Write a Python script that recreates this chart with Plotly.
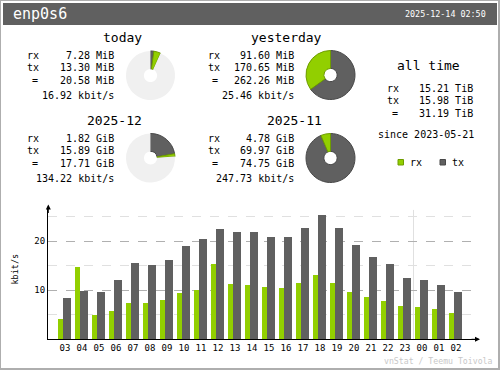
import plotly.graph_objects as go

W, H = 500, 370
MONO = "DejaVu Sans Mono"
C_RX, C_TX = "#92cf00", "#606060"
C_RX_D, C_TX_D = "#6e9c00", "#484848"
C_RING = "#f0f0f0"

# ---------------- data ----------------
interface = "enp0s6"
stamp = "2025-12-14 02:50"

hours = ["03", "04", "05", "06", "07", "08", "09", "10", "11", "12", "13", "14",
         "15", "16", "17", "18", "19", "20", "21", "22", "23", "00", "01", "02"]
rx_kbit = [4.15, 14.7, 4.95, 5.8, 7.4, 7.4, 8.0, 9.45, 10.0, 15.4, 11.3, 11.1,
           10.7, 10.5, 11.5, 13.1, 11.5, 9.65, 8.6, 7.8, 6.8, 6.6, 6.2, 5.4]
tx_kbit = [8.4, 9.85, 9.65, 12.1, 15.6, 15.2, 16.2, 19.0, 20.45, 22.5, 21.9, 21.9,
           20.9, 20.9, 22.7, 25.4, 22.7, 19.2, 16.8, 15.4, 12.5, 12.1, 11.1, 9.65]

today_rows = ["7.28 MiB", "13.30 MiB", "20.58 MiB", "16.92 kbit/s"]
yesterday_rows = ["91.60 MiB", "170.65 MiB", "262.26 MiB", "25.46 kbit/s"]
month_rows = ["1.82 GiB", "15.89 GiB", "17.71 GiB", "134.22 kbit/s"]
prev_month_rows = ["4.78 GiB", "69.97 GiB", "74.75 GiB", "247.73 kbit/s"]
alltime_rows = ["15.21 TiB", "15.98 TiB", "31.19 TiB"]
since = "since 2023-05-21"

# donut shares: [tx, rx, empty]
today_ring = [0.022, 0.045, 0.933]
yesterday_ring = [170.65, 91.60, 0]
month_ring = [0.222, 0.019, 0.759]
prev_month_ring = [69.97, 4.78, 0]


def px(x):
    return x / W


def py(y):
    return 1 - y / H


fig = go.Figure()

# ---------------- hourly bars ----------------
idx = list(range(len(hours)))
fig.add_trace(go.Bar(x=idx, y=rx_kbit, width=5 / 17, offset=-7 / 17,
                     marker=dict(color=C_RX, line=dict(width=0)),
                     hoverinfo="skip", showlegend=False))
fig.add_trace(go.Bar(x=idx, y=tx_kbit, width=8 / 17, offset=-2 / 17,
                     marker=dict(color=C_TX, line=dict(width=0)),
                     hoverinfo="skip", showlegend=False))

# ---------------- donuts ----------------
def donut(vals, cx, cy, r=24.5):
    fig.add_trace(go.Pie(
        values=vals, sort=False, direction="clockwise", rotation=0,
        hole=0.27, textinfo="none", hoverinfo="skip", showlegend=False,
        marker=dict(colors=[C_TX, C_RX, C_RING],
                    line=dict(color=[C_TX_D, C_RX_D, C_RING], width=[1, 1, 0])),
        domain=dict(x=[px(cx - r), px(cx + r)], y=[py(cy + r), py(cy - r)]),
    ))


donut(today_ring, 150.5, 75.5)
donut(yesterday_ring, 330.5, 75)
donut(month_ring, 150.5, 158)
donut(prev_month_ring, 330.5, 158)

ann = []


def txt(s, x, y, size=10, anchor="left", color="#000000"):
    ann.append(dict(text=s, x=px(x), y=py(y), xref="paper", yref="paper",
                    xanchor=anchor, yanchor="middle", showarrow=False,
                    font=dict(family=MONO, size=size, color=color)))


def block(title, tx_c, ty, lab_x, val_x, rows, row_y):
    txt(title, tx_c, ty, 13, "center")
    labels = ["rx", "tx", "="]
    for i, v in enumerate(rows):
        if i < 3:
            if labels[i] == "=":
                txt("=", lab_x + 9.5, row_y[i], 10, "center")
            else:
                txt(labels[i], lab_x, row_y[i], 10, "left")
        txt(v, val_x, row_y[i], 10, "right")


block("today", 122, 37.5, 25, 115.5, today_rows, [55.5, 67.5, 80, 95.5])
block("yesterday", 286, 37.5, 205.5, 295.5, yesterday_rows, [55.5, 67.5, 80, 95.5])
block("2025-12", 114, 120, 25, 115.5, month_rows, [138.5, 150.5, 163.5, 178.5])
block("2025-11", 294, 120, 205.5, 295.5, prev_month_rows, [138.5, 150.5, 163.5, 178.5])
block("all time", 428.5, 65.5, 385, 474.5, alltime_rows, [88.5, 100.5, 113])
txt(since, 426, 134, 10, "center")
txt("rx", 407.5, 162.5, 10, "left")
txt("tx", 449.5, 162.5, 10, "left")

# header
txt(interface, 11, 14, 15, "left", "#ffffff")
txt(stamp, 487.5, 14, 8.4, "right", "#ffffff")
txt("vnStat / Teemu Toivola", 494.5, 360.5, 8.2, "right", "#c8c8c8")
ann.append(dict(text="kbit/s", x=px(14.5), y=py(269), xref="paper", yref="paper",
                textangle=-90, showarrow=False, xanchor="center", yanchor="middle",
                font=dict(family=MONO, size=8.5, color="#000000")))

# axis arrowheads
ann.append(dict(text="", x=px(480), y=py(339.3), xref="paper", yref="paper",
                showarrow=True, ax=-10, ay=0, arrowhead=2, arrowsize=1,
                arrowwidth=1, arrowcolor="#000000", standoff=0))
ann.append(dict(text="", x=px(48.3), y=py(204.5), xref="paper", yref="paper",
                showarrow=True, ax=0, ay=10, arrowhead=2, arrowsize=1,
                arrowwidth=1, arrowcolor="#000000", standoff=0))

shapes = [
    dict(type="rect", xref="paper", yref="paper", x0=px(1), x1=px(498), y0=py(368), y1=py(1),
         fillcolor="#ffffff", line=dict(width=0), layer="below"),
    dict(type="rect", xref="paper", yref="paper", x0=px(3), x1=px(497), y0=py(25), y1=py(3),
         fillcolor="#606060", line=dict(width=0), layer="below"),
    dict(type="rect", xref="paper", yref="paper", x0=px(398), x1=px(403.5), y0=py(165), y1=py(159.5),
         fillcolor=C_RX, line=dict(color=C_RX_D, width=1)),
    dict(type="rect", xref="paper", yref="paper", x0=px(440), x1=px(445.5), y0=py(165), y1=py(159.5),
         fillcolor=C_TX, line=dict(color=C_TX_D, width=1)),
    dict(type="line", xref="x", yref="y", x0=20.5, x1=20.5, y0=0, y1=26.4,
         line=dict(color="#e0e0e0", width=1), layer="below"),
]

fig.update_layout(
    width=W, height=H, autosize=False,
    margin=dict(l=0, r=0, t=0, b=0, pad=0),
    paper_bgcolor="#aeaeae", plot_bgcolor="rgba(0,0,0,0)",
    barmode="overlay", bargap=0,
    annotations=ann, shapes=shapes,
    xaxis=dict(domain=[px(48), px(478)], range=[-1, (478 - 65) / 17],
               tickvals=idx, ticktext=hours, ticks="", showgrid=False, zeroline=False,
               showline=True, linecolor="#000000", linewidth=1,
               tickfont=dict(family=MONO, size=9, color="#000000"), fixedrange=True),
    yaxis=dict(domain=[py(339.3), py(206.7)], range=[0, 27.06],
               tickvals=[10, 20], ticktext=["10", "20"], ticks="", zeroline=False,
               showline=True, linecolor="#000000", linewidth=1,
               showgrid=True, gridcolor="#b0b0b0", griddash="dash", gridwidth=1,
               minor=dict(tickvals=[5, 15, 25], showgrid=True, gridcolor="#e0e0e0",
                          griddash="dash", gridwidth=1),
               tickfont=dict(family=MONO, size=9, color="#000000"), fixedrange=True),
)

fig.write_html("out.html", config={"displayModeBar": False, "staticPlot": True},
               post_script="document.body.style.margin='0';document.body.style.overflow='hidden';")
